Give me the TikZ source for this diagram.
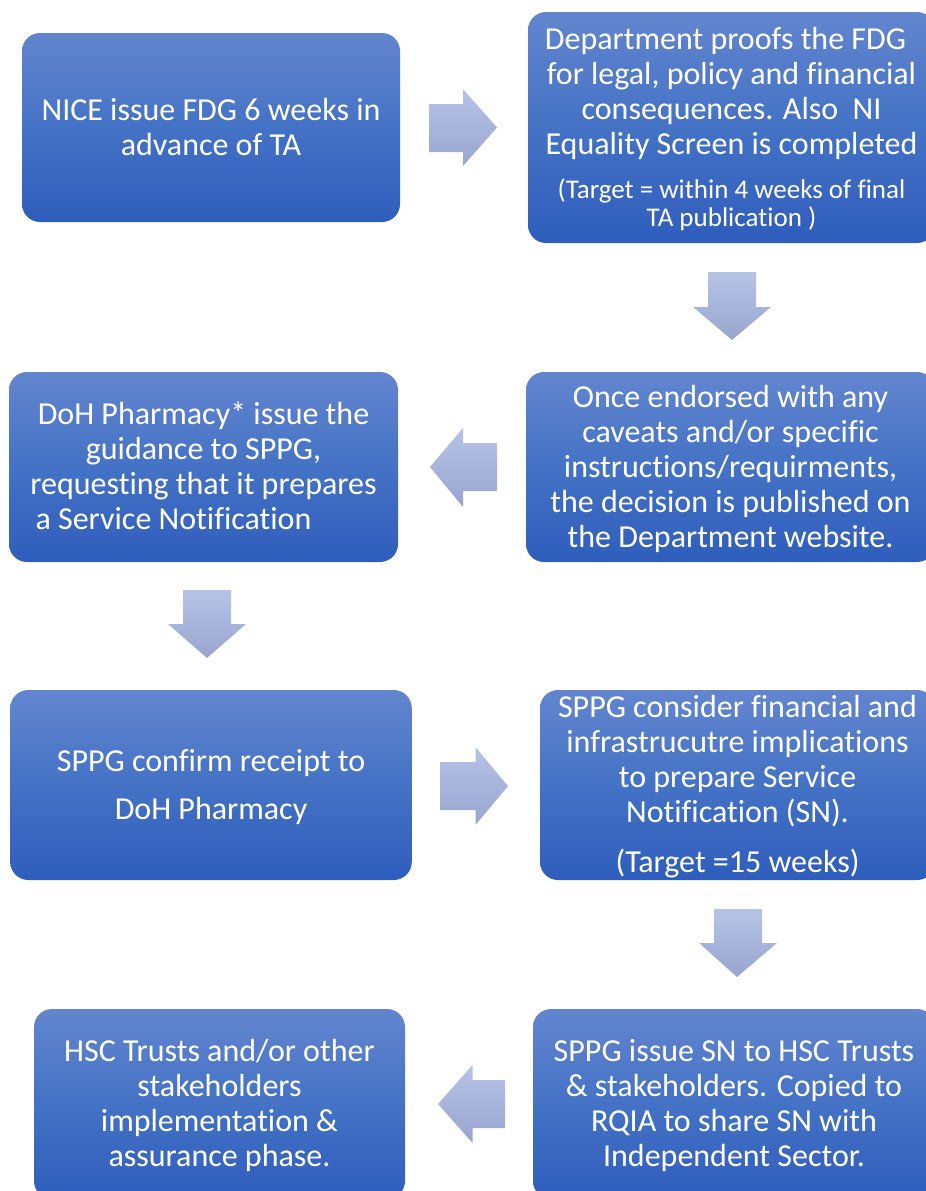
\documentclass[tikz,border=0pt]{standalone}
\usepackage{fontspec}
\setmainfont{Carlito}[Ligatures=NoCommon]
\definecolor{boxtop}{RGB}{99,133,207}
\definecolor{boxmid}{RGB}{68,114,197}
\definecolor{boxbot}{RGB}{47,93,188}
\definecolor{arrtop}{RGB}{183,195,230}
\definecolor{arrbot}{RGB}{152,165,207}
\newcommand{\ls}{\rule[-7.3pt]{0pt}{35pt}}
\newcommand{\lss}{\rule[-6pt]{0pt}{28pt}}
\newcommand{\boxfont}{\fontsize{32pt}{0pt}\selectfont\setlength{\lineskip}{0pt}\setlength{\lineskiplimit}{0pt}}
\newcommand{\smallboxfont}{\fontsize{27pt}{0pt}\selectfont}
\begin{document}
\begin{tikzpicture}[x=1pt,y=-1pt,
  box/.style={rectangle, rounded corners=18pt, inner sep=0pt, text=white,
    align=center, top color=boxtop, bottom color=boxbot, middle color=boxmid,
    font=\boxfont},
  blockarrow/.style={top color=arrtop, bottom color=arrbot, draw=none}]
\useasboundingbox (0,0) rectangle (926,1191);
\clip (0,0) rectangle (926,1191);

% boxes
\node[box, minimum width=378pt, minimum height=189pt] (b1) at (211,127.5)
  {\ls NICE issue FDG 6 weeks in\\\ls advance of TA};
\node[box, minimum width=407pt, minimum height=231pt] (b2) at (731.5,127.5)
  {\ls Department proofs the FDG\kern12pt\\
   \ls for legal, policy and financial\\
   \ls consequences. Also\ \ NI\\
   \ls Equality Screen is completed\\[14.7pt]
   {\smallboxfont\lss (Target = within 4 weeks of final}\\
   {\smallboxfont\lss TA publication )}};
\node[box, minimum width=409pt, minimum height=190pt] (b3) at (730.5,467)
  {\ls Once endorsed with any\\
   \ls caveats and/or specific\\
   \ls instructions/requirments,\\
   \ls the decision is published on\\
   \ls the Department website.};
\node[box, minimum width=389pt, minimum height=190pt] (b4) at (203.5,467)
  {\ls DoH Pharmacy* issue the\\
   \ls guidance to SPPG,\\
   \ls requesting that it prepares\\
   \ls a Service Notification\kern60pt};
\node[box, minimum width=401.5pt, minimum height=190pt] (b5) at (211,785)
  {\ls SPPG confirm receipt to\\[13pt]
   \ls DoH Pharmacy};
\node[box, minimum width=395pt, minimum height=190pt] (b6) at (737.5,785)
  {\ls SPPG consider financial and\\
   \ls infrastrucutre implications\\
   \ls to prepare Service\\
   \ls Notification (SN).\\[15pt]
   \ls (Target =15 weeks)};
\node[box, minimum width=371pt, minimum height=190pt] (b7) at (219.5,1104)
  {\ls HSC Trusts and/or other\\
   \ls stakeholders\\
   \ls implementation \&\\
   \ls assurance phase.};
\node[box, minimum width=402pt, minimum height=190pt] (b8) at (734,1104)
  {\ls SPPG issue SN to HSC Trusts\\
   \ls \& stakeholders. Copied to\\
   \ls RQIA to share SN with\\
   \ls Independent Sector.};

% block arrows
% b1 -> b2 (right)
\path[blockarrow] (429,104) -- (463,104) -- (463,89) -- (497,127.5) -- (463,166)
  -- (463,152) -- (429,152) -- cycle;
% b2 -> b3 (down)
\path[blockarrow] (708,272) -- (756,272) -- (756,307) -- (771,307) -- (732,340)
  -- (693,307) -- (708,307) -- cycle;
% b3 -> b4 (left)
\path[blockarrow] (497,443) -- (463,443) -- (463,428) -- (430,467) -- (463,507)
  -- (463,491) -- (497,491) -- cycle;
% b4 -> b5 (down)
\path[blockarrow] (183,590) -- (231,590) -- (231,624) -- (246,624) -- (207,658)
  -- (168,624) -- (183,624) -- cycle;
% b5 -> b6 (right)
\path[blockarrow] (440,762) -- (475.5,762) -- (475.5,747) -- (508,786) -- (475.5,825)
  -- (475.5,810) -- (440,810) -- cycle;
% b6 -> b8 (down)
\path[blockarrow] (714,909) -- (762,909) -- (762,943) -- (777,943) -- (737,977)
  -- (699,943) -- (714,943) -- cycle;
% b8 -> b7 (left)
\path[blockarrow] (505,1080) -- (472.5,1080) -- (472.5,1065) -- (438,1104) -- (472.5,1143)
  -- (472.5,1128) -- (505,1128) -- cycle;
\end{tikzpicture}
\end{document}
